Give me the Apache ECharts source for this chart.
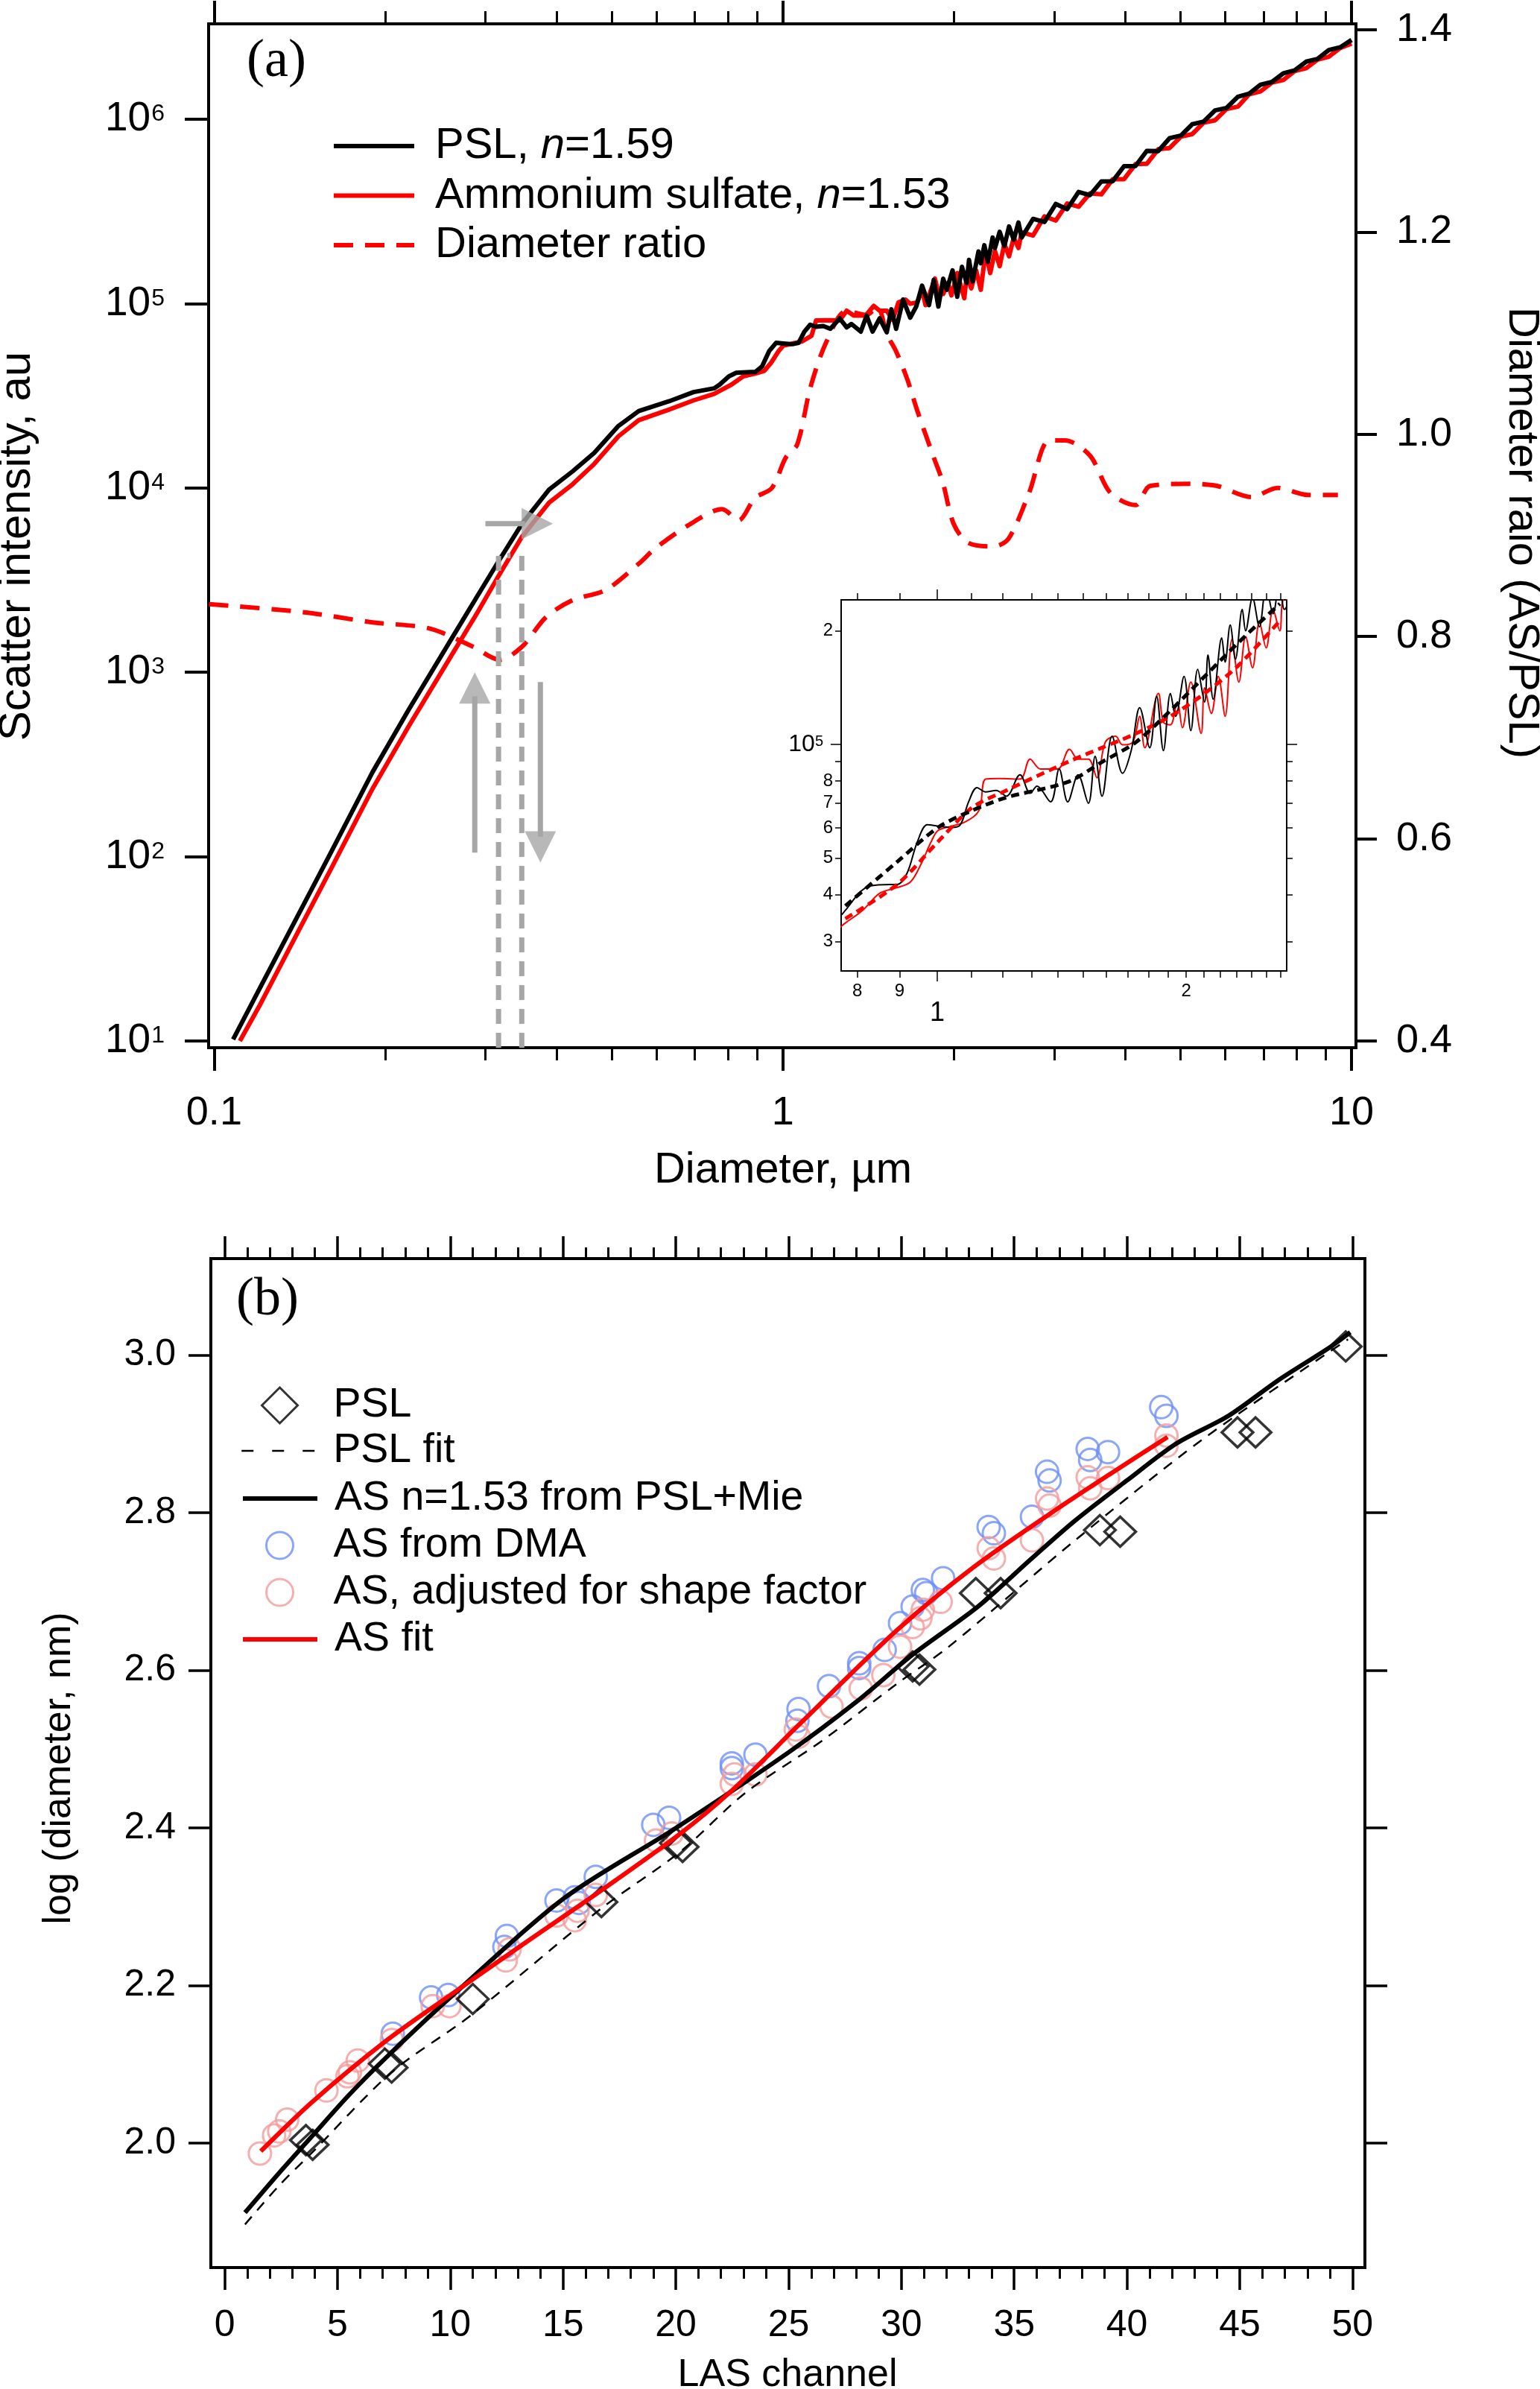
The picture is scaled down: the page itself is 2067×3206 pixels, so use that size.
<!DOCTYPE html>
<html><head><meta charset="utf-8">
<script src="https://cdn.jsdelivr.net/npm/echarts@6.0.0/dist/echarts.min.js"></script>
<style>html,body{margin:0;padding:0;background:#fff}#c{width:2067px;height:3206px}</style>
</head><body><div id="c"></div>
<script>
// ---------- Panel (a) data: [diameter um, scatter intensity] ----------
const pslCurve = [[0.108,10.2],[0.12,19.0],[0.14,47.1],[0.16,103.5],[0.19,288],[0.22,628],[0.262,1535],[0.29,2576],[0.316,3981],[0.348,6400],[0.388,9772],[0.427,12300],[0.466,15490],[0.514,21680],[0.558,26120],[0.631,29510],[0.697,33110],[0.757,34670],
[0.774,36300],[0.804,40300],[0.828,42100],[0.877,42500],[0.894,42500],[0.919,45500],[0.946,55200],[0.973,61200],[1.002,60700],[1.040,60200],[1.066,61200],[1.091,70400],[1.117,76800],[1.144,74800],[1.178,75500],[1.212,72900],[1.259,83100],[1.295,74200],[1.320,77500],[1.371,70400],[1.404,86000],[1.438,70400],[1.480,83100],[1.523,69800],[1.552,93000],[1.582,72900],[1.627,105100],[1.675,83800],[1.716,96300],[1.757,125100],[1.807,98000],[1.842,134100],[1.877,96300],[1.914,136500],[1.942,118700],[1.988,151400],[2.026,108800],[2.065,158200],[2.105,129500],[2.125,172600],[2.156,131800],[2.208,191600],[2.229,165300],[2.261,207200],[2.294,168200],[2.338,228100],[2.360,200100],[2.406,245000],[2.452,205000],[2.499,262000],[2.547,222000],[2.596,275000],
[2.63,228000],[2.754,288000],[2.884,277000],[3.02,347000],[3.162,325000],[3.311,403000],[3.467,387000],[3.631,459000],[3.802,461000],[3.981,556000],[4.169,557000],[4.365,673000],[4.571,671000],[4.786,789000],[5.012,815000],[5.248,940000],[5.495,970000],[5.754,1117000],[6.026,1151000],[6.31,1324000],[6.607,1377000],[6.918,1538000],[7.244,1592000],[7.586,1774000],[7.943,1841000],[8.318,2051000],[8.71,2123000],[9.12,2371000],[9.55,2455000],[10.0,2690000]];

const asCurve = [[0.111,10.0],[0.12,15.4],[0.14,38.3],[0.16,84.1],[0.19,234],[0.22,511],[0.262,1247],[0.29,2094],[0.316,3311],[0.348,5445],[0.388,8318],[0.427,10470],[0.466,13490],[0.514,19050],[0.558,23280],[0.631,26610],[0.697,29850],[0.757,32360],
[0.774,33600],[0.812,36300],[0.852,40300],[0.894,41700],[0.928,43200],[0.955,48000],[0.983,55200],[1.002,59100],[1.040,60700],[1.081,62300],[1.123,66800],[1.144,80900],[1.189,81200],[1.259,80900],[1.295,91400],[1.333,86000],[1.398,86000],[1.445,97100],[1.480,91400],[1.523,91400],[1.560,81600],[1.597,101500],[1.643,105100],[1.675,99700],[1.724,101500],[1.757,118700],[1.782,98000],[1.851,136500],[1.877,114600],[1.914,112700],[1.951,129500],[1.979,110700],[2.026,146300],[2.085,106900],[2.105,141300],[2.145,120800],[2.187,151400],[2.229,118700],[2.272,189900],[2.316,146300],[2.360,193200],[2.406,159600],[2.452,210800],[2.499,180300],[2.547,228100],[2.596,200000],
[2.63,244000],[2.754,234000],[2.884,297000],[3.02,282000],[3.162,349000],[3.311,335000],[3.467,396000],[3.631,391000],[3.802,472000],[3.981,473000],[4.169,570000],[4.365,573000],[4.571,687000],[4.786,697000],[5.012,804000],[5.248,830000],[5.495,957000],[5.754,986000],[6.026,1135000],[6.31,1169000],[6.607,1365000],[6.918,1416000],[7.244,1578000],[7.586,1633000],[7.943,1824000],[8.318,1888000],[8.71,2104000],[9.12,2183000],[9.55,2432000],[10.0,2570000]];

// diameter ratio AS/PSL (right axis)
const ratioCurve = [[0.098,0.832],[0.144,0.824],[0.19,0.814],[0.239,0.808],[0.285,0.79],[0.318,0.777],[0.348,0.79],[0.383,0.819],[0.427,0.836],[0.488,0.846],[0.558,0.872],[0.596,0.887],[0.682,0.91],[0.782,0.926],[0.836,0.915],[0.893,0.937],[0.957,0.947],[1.012,0.977],[1.06,0.99],[1.119,1.047],[1.194,1.092],[1.294,1.122],[1.403,1.118],[1.466,1.126],[1.524,1.099],[1.585,1.081],[1.656,1.054],[1.722,1.024],[1.837,0.979],[1.91,0.953],[1.995,0.912],[2.113,0.893],[2.344,0.889],[2.495,0.897],[2.71,0.942],[2.94,0.994],[3.133,0.994],[3.467,0.979],[3.767,0.942],[4.169,0.93],[4.426,0.949],[5.224,0.951],[5.794,0.949],[6.668,0.938],[7.413,0.947],[8.375,0.94],[9.462,0.94]];

// inset smoothed curves
const pslFitInset = [[0.774,37300],[0.894,48800],[1.002,60200],[1.102,66800],[1.212,72300],[1.438,79500],[1.582,89800],[1.740,101500],[1.914,122900],[2.105,151400],[2.316,186700],[2.596,236100]];
const asFitInset = [[0.774,34500],[0.894,42500],[1.002,55200],[1.102,68000],[1.212,75500],[1.438,89800],[1.582,98000],[1.740,106900],[1.914,118700],[2.105,136500],[2.316,162400],[2.596,212700]];

// gray annotations (data units)
const arrowRight = [[0.2999,6400],[0.352,6400]];
const arrowRightHead = [[0.370,6400]];
const arrowUp = [[0.2873,105],[0.2873,740]];
const arrowUpHead = [[0.2873,822]];
const arrowDown = [[0.3747,885],[0.3747,128]];
const arrowDownHead = [[0.3747,113]];
const guideLeft = [[0.3163,9.19],[0.3163,4285],[0.332,4285]];
const guideRight = [[0.3475,9.19],[0.3475,4285]];

// tick values
const xMajorA = [0.1,1,10];
const xMinorA = [0.2,0.3,0.4,0.5,0.6,0.7,0.8,0.9,2,3,4,5,6,7,8,9];
const yMajorA = [10,100,1000,10000,100000,1000000];
const ratioTicks = [0.4,0.6,0.8,1.0,1.2,1.4];
const insetXMinor = [0.8,0.9,1.1,1.2,1.3,1.4,1.5,1.6,1.7,1.8,1.9,2,2.1,2.2,2.3,2.4,2.5,2.6];
const insetXLabels = [0.8,0.9,2];
const insetXMajor = [1];
const insetYMinor = [30000,40000,50000,60000,70000,80000,90000,200000];
const insetYLabels = [30000,40000,50000,60000,70000,80000,200000];
const insetYMajor = [100000];

// ---------- Panel (b) data: [LAS channel, log(diameter, nm)] ----------
const lasPsl = [[3.6,2.004],[3.9,1.998],[7.1,2.101],[7.4,2.096],[11.0,2.183],[16.7,2.306],[20.0,2.381],[20.3,2.376],[30.5,2.605],[30.8,2.601],[33.3,2.698],[34.4,2.698],[38.8,2.778],[39.7,2.776],[44.9,2.902],[45.7,2.902],[49.7,3.011]];
const lasDma = [[7.45,2.139],[9.15,2.185],[9.91,2.188],[12.4,2.249],[12.51,2.263],[14.71,2.308],[15.52,2.312],[15.7,2.305],[16.45,2.338],[19.0,2.404],[19.7,2.413],[22.48,2.476],[22.48,2.482],[23.53,2.493],[25.39,2.536],[25.44,2.551],[26.79,2.58],[28.13,2.603],[28.13,2.609],[29.26,2.626],[29.94,2.66],[30.5,2.681],[30.95,2.702],[31.1,2.698],[31.85,2.717],[33.87,2.782],[34.1,2.774],[35.79,2.795],[36.46,2.852],[36.57,2.841],[38.26,2.881],[38.37,2.867],[39.16,2.877],[41.52,2.934],[41.75,2.923]];
const lasAdj = [[1.56,1.987],[2.19,2.01],[2.42,2.015],[2.77,2.03],[4.51,2.067],[5.44,2.085],[5.55,2.09],[5.9,2.105],[7.41,2.131],[9.22,2.174],[9.96,2.174],[12.46,2.232],[12.63,2.246],[14.71,2.289],[15.52,2.283],[15.64,2.295],[16.45,2.315],[19.12,2.384],[19.82,2.393],[22.48,2.456],[22.6,2.468],[23.53,2.468],[25.32,2.525],[25.45,2.516],[26.9,2.554],[28.2,2.577],[29.2,2.594],[29.94,2.63],[30.5,2.655],[30.84,2.666],[30.95,2.677],[31.74,2.687],[33.87,2.755],[34.1,2.742],[35.79,2.765],[36.46,2.818],[36.57,2.809],[38.26,2.845],[38.37,2.831],[39.16,2.844],[41.75,2.898],[41.75,2.885]];
const lasPslFit = [[0.9,1.897],[2.4,1.946],[3.9,1.989],[7.4,2.09],[10.9,2.162],[16.7,2.298],[20.2,2.37],[23.1,2.445],[26.5,2.511],[29.8,2.583],[32.1,2.63],[37.7,2.765],[43.3,2.892],[49.8,3.02]];
const lasMie = [[0.9,1.912],[2.4,1.962],[3.9,2.01],[5.5,2.061],[7.2,2.11],[10,2.185],[15,2.31],[20,2.40],[25,2.496],[28,2.56],[30.5,2.62],[33.4,2.681],[35.7,2.74],[37.7,2.79],[40,2.841],[42.2,2.888],[44.5,2.923],[46.7,2.968],[49,3.01],[49.9,3.029]];
const lasAsFit = [[1.6,1.99],[3.9,2.053],[7.2,2.131],[10,2.188],[13.2,2.252],[16.7,2.321],[20.2,2.393],[22.5,2.448],[25.6,2.535],[29.8,2.651],[33.2,2.731],[36.6,2.799],[39.3,2.85],[41.8,2.896]];
const lasMajor = [0,5,10,15,20,25,30,35,40,45,50];
const lasMinor = [1,2,3,4,6,7,8,9,11,12,13,14,16,17,18,19,21,22,23,24,26,27,28,29,31,32,33,34,36,37,38,39,41,42,43,44,46,47,48,49];
const logDTicks = [2.0,2.2,2.4,2.6,2.8,3.0];

// ---------- build ----------
const FONT = 'Liberation Sans';
function ax(o) {
  return {
    type: o.type, gridIndex: o.grid, position: o.pos, min: o.min, max: o.max,
    axisLine: { show: !!o.line, onZero: false, lineStyle: { color: '#000', width: o.lw || 4, cap: 'square' } },
    axisTick: o.ticks ? { show: true, inside: false, length: o.tl, customValues: o.ticks, lineStyle: { color: '#000', width: o.tw || 3 } } : { show: false },
    axisLabel: o.labels ? Object.assign({ show: true, customValues: o.labels, margin: o.margin, color: '#000', fontFamily: FONT, fontSize: o.fs }, o.lab || {}) : { show: false },
    splitLine: { show: false }, minorTick: { show: false }, minorSplitLine: { show: false }
  };
}
const supRich = {
  b: { fontSize: 55, lineHeight: 55, fontFamily: FONT, color: '#000', padding: [20, 0, 0, 0], verticalAlign: 'bottom' },
  s: { fontSize: 32, lineHeight: 32, fontFamily: FONT, color: '#000', padding: [5, 0, 0, 1], verticalAlign: 'top' }
};
const supRichInset = {
  b: { fontSize: 32, lineHeight: 32, fontFamily: FONT, color: '#000', padding: [12, 0, 0, 0], verticalAlign: 'bottom' },
  s: { fontSize: 20, lineHeight: 20, fontFamily: FONT, color: '#000', padding: [3, 13, 0, 0], verticalAlign: 'top' }
};

const xAxes = [
  ax({type:'log', grid:0, pos:'bottom', min:0.0978, max:10.18, line:true, ticks:xMajorA, tl:31, tw:4, labels:xMajorA, margin:61, fs:54,
      lab:{formatter: v => (v < 0.5 ? '0.1' : String(Math.round(v)))}}),
  ax({type:'log', grid:0, pos:'bottom', min:0.0978, max:10.18, ticks:xMinorA, tl:17, tw:3}),
  ax({type:'log', grid:0, pos:'top', min:0.0978, max:10.18, line:true, ticks:xMajorA, tl:31, tw:4}),
  ax({type:'log', grid:0, pos:'top', min:0.0978, max:10.18, ticks:xMinorA, tl:17, tw:3}),
  ax({type:'log', grid:1, pos:'bottom', min:0.765, max:2.646, line:true, lw:2, ticks:insetXMinor, tl:9, tw:1.5, labels:insetXLabels, margin:15, fs:24,
      lab:{formatter: v => (v > 1.5 ? '2' : String(Math.round(v * 10)))}}),
  ax({type:'log', grid:1, pos:'bottom', min:0.765, max:2.646, ticks:insetXMajor, tl:14, tw:1.5, labels:insetXMajor, margin:39, fs:36,
      lab:{formatter: () => '1'}}),
  ax({type:'log', grid:1, pos:'top', min:0.765, max:2.646, line:true, lw:2, ticks:insetXMinor, tl:9, tw:1.5}),
  ax({type:'log', grid:1, pos:'top', min:0.765, max:2.646, ticks:insetXMajor, tl:14, tw:1.5}),
  ax({type:'value', grid:2, pos:'bottom', min:-0.615, max:50.55, line:true, ticks:lasMajor, tl:30, tw:3.5, labels:lasMajor, margin:53, fs:50,
      lab:{formatter: v => String(Math.round(v))}}),
  ax({type:'value', grid:2, pos:'bottom', min:-0.615, max:50.55, ticks:lasMinor, tl:15, tw:3}),
  ax({type:'value', grid:2, pos:'top', min:-0.615, max:50.55, line:true, ticks:lasMajor, tl:30, tw:3.5}),
  ax({type:'value', grid:2, pos:'top', min:-0.615, max:50.55, ticks:lasMinor, tl:15, tw:3})
];
const yAxes = [
  ax({type:'log', grid:0, pos:'left', min:9.19, max:3.29e6, line:true, ticks:yMajorA, tl:32, tw:4, labels:yMajorA, margin:59, fs:55,
      lab:{rich: supRich, formatter: v => '{b|10}{s|' + Math.round(Math.log10(v)) + '}'}}),
  ax({type:'value', grid:0, pos:'right', min:0.3934, max:1.4059, line:true, ticks:ratioTicks, tl:28, tw:4, labels:ratioTicks, margin:54, fs:54,
      lab:{formatter: v => v.toFixed(1)}}),
  ax({type:'log', grid:1, pos:'left', min:2.507e4, max:2.417e5, line:true, lw:2, ticks:insetYMinor, tl:8, tw:1.5, labels:insetYLabels, margin:11, fs:24,
      lab:{formatter: v => (v > 150000 ? '2' : String(Math.round(v / 10000)))}}),
  ax({type:'log', grid:1, pos:'left', min:2.507e4, max:2.417e5, ticks:insetYMajor, tl:14, tw:1.5, labels:insetYMajor, margin:11, fs:24,
      lab:{rich: supRichInset, formatter: () => '{b|10}{s|5}'}}),
  ax({type:'log', grid:1, pos:'right', min:2.507e4, max:2.417e5, line:true, lw:2, ticks:insetYMinor, tl:8, tw:1.5}),
  ax({type:'log', grid:1, pos:'right', min:2.507e4, max:2.417e5, ticks:insetYMajor, tl:14, tw:1.5}),
  ax({type:'value', grid:2, pos:'left', min:1.8423, max:3.1225, line:true, ticks:logDTicks, tl:30, tw:3.5, labels:logDTicks, margin:47, fs:50,
      lab:{formatter: v => v.toFixed(1)}}),
  ax({type:'value', grid:2, pos:'right', min:1.8423, max:3.1225, line:true, ticks:logDTicks, tl:30, tw:3.5})
];

const GRAY = '#a6a6a6';
function lineS(name, data, xi, yi, color, width, type, extra) {
  return Object.assign({ name, type: 'line', xAxisIndex: xi, yAxisIndex: yi, data, symbol: 'none', showSymbol: false, silent: true,
    lineStyle: { color, width, type: type || 'solid', cap: 'butt', join: 'round' }, itemStyle: { color }, animation: false }, extra || {});
}
function headS(name, data, rot) {
  return { name, type: 'scatter', xAxisIndex: 0, yAxisIndex: 0, data, symbol: 'triangle', symbolSize: [42, 42], symbolRotate: rot,
    itemStyle: { color: GRAY }, silent: true, z: 4 };
}
function ringS(name, data, color) {
  return { name, type: 'scatter', xAxisIndex: 8, yAxisIndex: 6, data, symbol: 'circle', symbolSize: 30,
    itemStyle: { color: 'rgba(0,0,0,0)', borderColor: color, borderWidth: 3 }, silent: true };
}

const series = [
  lineS('Diameter ratio', ratioCurve, 0, 1, '#ff0000', 6, [26, 16], { smooth: 0.3 }),
  lineS('Ammonium sulfate, n=1.53', asCurve, 0, 0, '#ff0000', 6),
  lineS('PSL, n=1.59', pslCurve, 0, 0, '#000000', 6),
  lineS('guideL', guideLeft, 0, 0, GRAY, 7, [20, 12], { z: 4 }),
  lineS('guideR', guideRight, 0, 0, GRAY, 7, [20, 12], { z: 4 }),
  lineS('arrowR', arrowRight, 0, 0, GRAY, 7, 'solid', { z: 4 }),
  lineS('arrowU', arrowUp, 0, 0, GRAY, 7, 'solid', { z: 4 }),
  lineS('arrowD', arrowDown, 0, 0, GRAY, 7, 'solid', { z: 4 }),
  headS('headR', arrowRightHead, -90),
  headS('headU', arrowUpHead, 0),
  headS('headD', arrowDownHead, 180),
  // inset (same measured curves, zoomed)
  lineS('AS inset', asCurve, 4, 2, '#ff0000', 2, 'solid', { smooth: 0.35 }),
  lineS('PSL inset', pslCurve, 4, 2, '#000000', 2, 'solid', { smooth: 0.35 }),
  lineS('AS fit inset', asFitInset, 4, 2, '#ff0000', 5, [11, 7], { smooth: 0.3 }),
  lineS('PSL fit inset', pslFitInset, 4, 2, '#000000', 5, [11, 7], { smooth: 0.3 }),
  // panel b
  ringS('AS from DMA', lasDma, '#6e8ef6'),
  ringS('AS, adjusted for shape factor', lasAdj, '#f49b9b'),
  { name: 'PSL', type: 'scatter', xAxisIndex: 8, yAxisIndex: 6, data: lasPsl, symbol: 'diamond', symbolSize: [42, 40],
    itemStyle: { color: 'rgba(0,0,0,0)', borderColor: '#000', borderWidth: 3.5 }, silent: true },
  lineS('PSL fit', lasPslFit, 8, 6, '#000000', 2.5, [14, 11], { smooth: 0.3 }),
  lineS('AS n=1.53 from PSL+Mie', lasMie, 8, 6, '#000000', 6, 'solid', { smooth: 0.3 }),
  lineS('AS fit', lasAsFit, 8, 6, '#ff0000', 6, 'solid', { smooth: 0.3 })
];

const richLeg = {
  t: { fontSize: 58, fontFamily: FONT, color: '#000', lineHeight: 40 },
  i: { fontSize: 58, fontFamily: FONT, color: '#000', lineHeight: 40, fontStyle: 'italic' }
};
const HIDE = { opacity: 0, color: 'rgba(0,0,0,0)', borderColor: 'rgba(0,0,0,0)', borderWidth: 0 };
function legLine(color, width, type) { return { color, width, type, cap: 'butt', opacity: 1 }; }

// panel (b) legend: one component per row so that symbol and line entries line up like the original
function legB(name, top, left, w, h, pad, itemStyle, lineStyle) {
  const item = { name, itemStyle };
  if (lineStyle) item.lineStyle = lineStyle;
  return { data: [item], orient: 'vertical', left, top, padding: 0, itemWidth: w, itemHeight: h, selectedMode: false,
    textStyle: { fontSize: 55.5, fontFamily: FONT, color: '#000', lineHeight: 40, padding: [0, 0, 0, pad] } };
}
const legendsB = [
  legB('PSL', 1886 - 28, 350, 48, 48, 43, { borderWidth: 3 }),
  legB('PSL fit', 1947 - 28, 323, 100, 14, 18, HIDE, legLine('#000', 2.5, [16, 25])),
  legB('AS n=1.53 from PSL+Mie', 2011 - 28, 323, 100, 14, 18, HIDE, legLine('#000', 6, 'solid')),
  legB('AS from DMA', 2074 - 28, 356, 36, 36, 49, { borderWidth: 3 }),
  legB('AS, adjusted for shape factor', 2137 - 28, 356, 36, 36, 49, { borderWidth: 3 }),
  legB('AS fit', 2200 - 28, 323, 100, 14, 18, HIDE, legLine('#ff0000', 6, 'solid'))
];

const option = {
  animation: false,
  backgroundColor: '#fff',
  textStyle: { fontFamily: FONT },
  grid: [
    { left: 280, top: 32, width: 1540, height: 1374, outerBoundsMode: 'none' },
    { left: 1129, top: 805, width: 598, height: 498, show: true, backgroundColor: '#fff', borderWidth: 0, outerBoundsMode: 'none' },
    { left: 283, top: 1689, width: 1549, height: 1354, outerBoundsMode: 'none' }
  ],
  xAxis: xAxes,
  yAxis: yAxes,
  legend: [
    { data: [
        { name: 'PSL, n=1.59', itemStyle: HIDE, lineStyle: legLine('#000', 6, 'solid') },
        { name: 'Ammonium sulfate, n=1.53', itemStyle: HIDE, lineStyle: legLine('#ff0000', 6, 'solid') },
        { name: 'Diameter ratio', itemStyle: HIDE, lineStyle: legLine('#ff0000', 6, [26, 16]) }],
      orient: 'vertical', left: 445, top: 167, padding: 0,
      itemWidth: 108, itemHeight: 14, itemGap: 8.5, selectedMode: false,
      textStyle: { fontSize: 58, fontFamily: FONT, color: '#000', lineHeight: 40, padding: [0, 0, 0, 23], rich: richLeg },
      formatter: n => n === 'PSL, n=1.59' ? '{t|PSL, }{i|n}{t|=1.59}' : (n === 'Diameter ratio' ? '{t|Diameter ratio}' : '{t|Ammonium sulfate, }{i|n}{t|=1.53}') }
  ].concat(legendsB),
  graphic: [
    { type: 'text', x: 23, y: 733, rotation: Math.PI / 2, silent: true,
      style: { text: 'Scatter intensity, au', fontSize: 60, fontFamily: FONT, fill: '#000', align: 'center', verticalAlign: 'middle', textAlign: 'center', textVerticalAlign: 'middle' } },
    { type: 'text', x: 2042, y: 715, rotation: -Math.PI / 2, silent: true,
      style: { text: 'Diameter raio (AS/PSL)', fontSize: 58, fontFamily: FONT, fill: '#000', align: 'center', verticalAlign: 'middle', textAlign: 'center', textVerticalAlign: 'middle' } },
    { type: 'text', x: 1051, y: 1571, silent: true,
      style: { text: 'Diameter, \u00b5m', fontSize: 58, fontFamily: FONT, fill: '#000', align: 'center', verticalAlign: 'middle', textAlign: 'center', textVerticalAlign: 'middle' } },
    { type: 'text', x: 331, y: 83, silent: true,
      style: { text: '(a)', fontSize: 72, fontFamily: 'Liberation Serif', fill: '#000', align: 'left', verticalAlign: 'middle', textAlign: 'left', textVerticalAlign: 'middle' } },
    { type: 'text', x: 317, y: 1745, silent: true,
      style: { text: '(b)', fontSize: 72, fontFamily: 'Liberation Serif', fill: '#000', align: 'left', verticalAlign: 'middle', textAlign: 'left', textVerticalAlign: 'middle' } },
    { type: 'text', x: 80, y: 2373, rotation: Math.PI / 2, silent: true,
      style: { text: 'log (diameter, nm)', fontSize: 52, fontFamily: FONT, fill: '#000', align: 'center', verticalAlign: 'middle', textAlign: 'center', textVerticalAlign: 'middle' } },
    { type: 'text', x: 1057, y: 3188, silent: true,
      style: { text: 'LAS channel', fontSize: 52, fontFamily: FONT, fill: '#000', align: 'center', verticalAlign: 'middle', textAlign: 'center', textVerticalAlign: 'middle' } }
  ],
  series
};

const chart = echarts.init(document.getElementById('c'), null, { renderer: 'canvas', width: 2067, height: 3206 });
chart.setOption(option);
</script></body></html>
